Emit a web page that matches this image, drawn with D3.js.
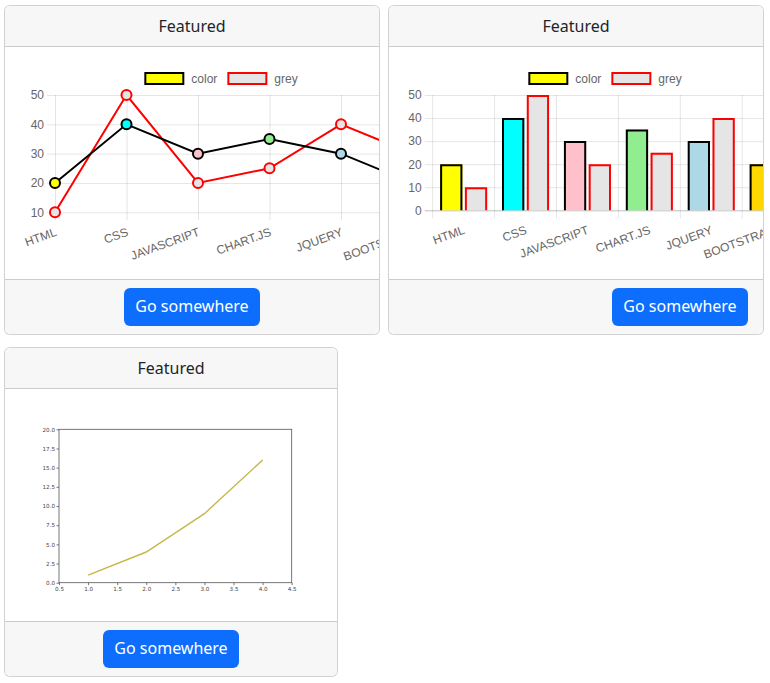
<!DOCTYPE html>
<html>
<head>
<meta charset="utf-8">
<script src="https://cdn.jsdelivr.net/npm/d3@7"></script>
<style>
body { margin: 0; background: #fff; font-family: "Noto Sans", "Open Sans", sans-serif; color: #212529; }
.card { position: absolute; box-sizing: border-box; border: 1px solid rgba(0,0,0,.175); border-radius: 6px; overflow: hidden; background: #fff; }
.card-header { height: 41px; box-sizing: border-box; border-bottom: 1px solid rgba(0,0,0,.175); background: #f7f7f7; text-align: center; font-size: 16px; line-height: 40px; }
.card-body { position: relative; height: 232px; overflow: hidden; }
.card-footer { box-sizing: border-box; height: 55px; border-top: 1px solid rgba(0,0,0,.175); background: #f7f7f7; padding: 8px 15px; }
.btn { display: inline-block; width: 136px; height: 38px; box-sizing: border-box; background: #0d6efd; color: #fff; border-radius: 6px; font-size: 16px; line-height: 37px; text-align: center; }
svg { position: absolute; left: 0; top: 0; }
</style>
</head>
<body>
<div class="card" style="left:4px;top:5px;width:376px;height:330px">
  <div class="card-header">Featured</div>
  <div class="card-body" id="body1"></div>
  <div class="card-footer" style="text-align:center"><span class="btn">Go somewhere</span></div>
</div>
<div class="card" style="left:388px;top:5px;width:376px;height:330px">
  <div class="card-header">Featured</div>
  <div class="card-body" id="body2"></div>
  <div class="card-footer" style="text-align:right"><span class="btn">Go somewhere</span></div>
</div>
<div class="card" style="left:4px;top:347px;width:334px;height:330px">
  <div class="card-header">Featured</div>
  <div class="card-body" id="body3"></div>
  <div class="card-footer" style="text-align:center"><span class="btn">Go somewhere</span></div>
</div>

<script>
const categories = ['HTML', 'CSS', 'JAVASCRIPT', 'CHART.JS', 'JQUERY', 'BOOTSTRAP'];
const colorValues = [20, 40, 30, 35, 30, 20];
const greyValues = [10, 50, 20, 25, 40, 30];
const pointColors = ['yellow', 'cyan', 'pink', 'lightgreen', 'lightblue', 'gold'];
const seriesNames = ['color', 'grey'];
const lineYTicks = [10, 20, 30, 40, 50];
const barYTicks = [0, 10, 20, 30, 40, 50];

const mplX = [1, 2, 3, 4];
const mplY = [1, 4, 9, 16];
const mplXTicks = [0.5, 1.0, 1.5, 2.0, 2.5, 3.0, 3.5, 4.0, 4.5];
const mplYTicks = [0, 2.5, 5, 7.5, 10, 12.5, 15, 17.5, 20];

const chartFont = '"Liberation Sans", Arial, sans-serif';
const grid = 'rgba(0,0,0,0.1)';
const greyFill = '#e5e5e5';

// legend like chart.js: boxes 40x12, centred over a 400px canvas
function drawLegend(svg) {
    const g = svg.append('g');
    const items = [
        { label: seriesNames[0], fill: pointColors[0], stroke: '#000' },
        { label: seriesNames[1], fill: greyFill, stroke: 'red' }
    ];
    let x = 0;
    items.forEach(it => {
        const item = g.append('g').attr('transform', `translate(${x},0)`);
        item.append('rect').attr('x', 1).attr('y', 26).attr('width', 38).attr('height', 11)
            .attr('fill', it.fill).attr('stroke', it.stroke).attr('stroke-width', 2);
        const t = item.append('text').attr('x', 47).attr('y', 31.5).attr('dy', '0.35em')
            .attr('font-family', chartFont).attr('font-size', 12).attr('fill', '#666').text(it.label);
        x += 47 + t.node().getComputedTextLength() + 10;
    });
    const total = x - 10;
    g.attr('transform', `translate(${216 - total / 2},0)`);
}

function styleAxis(g) {
    g.select('.domain').remove();
    g.selectAll('line').attr('stroke', grid);
    g.selectAll('text').attr('font-family', chartFont).attr('font-size', 12).attr('fill', '#666');
}

function rotateLabels(g) {
    g.selectAll('text')
        .attr('x', 0).attr('y', 0).attr('dy', '0.71em')
        .attr('text-anchor', 'end')
        .attr('transform', 'translate(-1,7) rotate(-20)');
}

// ---- line chart ----
const svg1 = d3.select('#body1').append('svg').attr('width', 420).attr('height', 232);
const lx = d3.scalePoint().domain(categories).range([50, 407.5]);
const ly = d3.scaleLinear().domain([10, 50]).range([165.3, 48]);

svg1.append('g').attr('transform', 'translate(42,0)')
    .call(d3.axisLeft(ly).tickValues(lineYTicks).tickSize(-(420 - 42)).tickPadding(3))
    .call(styleAxis);

svg1.append('g').attr('transform', `translate(0,${165.3 + 8})`)
    .call(d3.axisBottom(lx).tickSize(-(165.3 - 48 + 8)).tickPadding(0))
    .call(styleAxis)
    .call(rotateLabels);

const line1 = d3.line().x((d, i) => lx(categories[i])).y(d => ly(d));

svg1.append('path').datum(greyValues).attr('d', line1)
    .attr('fill', 'none').attr('stroke', 'red').attr('stroke-width', 2);
svg1.append('g').selectAll('circle').data(greyValues).join('circle')
    .attr('cx', (d, i) => lx(categories[i])).attr('cy', d => ly(d)).attr('r', 5)
    .attr('fill', greyFill).attr('stroke', 'red').attr('stroke-width', 2);

svg1.append('path').datum(colorValues).attr('d', line1)
    .attr('fill', 'none').attr('stroke', '#000').attr('stroke-width', 2);
svg1.append('g').selectAll('circle').data(colorValues).join('circle')
    .attr('cx', (d, i) => lx(categories[i])).attr('cy', d => ly(d)).attr('r', 5)
    .attr('fill', (d, i) => pointColors[i]).attr('stroke', '#000').attr('stroke-width', 2);

drawLegend(svg1);

// ---- bar chart ----
const svg2 = d3.select('#body2').append('svg').attr('width', 420).attr('height', 232);
const bx0 = d3.scaleBand().domain(categories).range([43.7, 43.7 + 6 * 61.9]);
const bx1 = d3.scaleBand().domain(seriesNames)
    .range([bx0.bandwidth() * 0.1, bx0.bandwidth() * 0.9])
    .paddingInner(0.1).paddingOuter(0.05);
const by = d3.scaleLinear().domain([0, 50]).range([210.3 - 47, 48]);

const yg2 = svg2.append('g').attr('transform', `translate(${43.7 - 8},0)`)
    .call(d3.axisLeft(by).tickValues(barYTicks).tickSize(-(bx0.range()[1] - 43.7 + 8)).tickPadding(3))
    .call(styleAxis);
yg2.selectAll('.tick').filter(d => d === 0).select('line').attr('stroke', 'rgba(0,0,0,0.25)');

const bounds = categories.map(c => bx0(c)).concat([bx0.range()[1]]);
svg2.append('g').selectAll('line').data(bounds).join('line')
    .attr('x1', d => d).attr('x2', d => d)
    .attr('y1', by(50)).attr('y2', by(0) + 8)
    .attr('stroke', grid);

svg2.append('g').attr('transform', `translate(0,${by(0) + 8})`)
    .call(d3.axisBottom(bx0).tickSize(0).tickPadding(0))
    .call(styleAxis)
    .call(rotateLabels);

const barRows = categories.map((c, i) => ({ cat: c, i: i, color: colorValues[i], grey: greyValues[i] }));
const groups = svg2.append('g').selectAll('g').data(barRows).join('g')
    .attr('transform', d => `translate(${bx0(d.cat)},0)`);

seriesNames.forEach(s => {
    const w = bx1.bandwidth();
    const fill = d => s === 'color' ? pointColors[d.i] : greyFill;
    const stroke = s === 'color' ? '#000' : 'red';
    groups.append('rect')
        .attr('x', bx1(s)).attr('y', d => by(d[s]))
        .attr('width', w).attr('height', d => by(0) - by(d[s]))
        .attr('fill', fill);
    // border on three sides, bottom skipped
    groups.append('path')
        .attr('d', d => {
            const x0 = bx1(s) + 1, x1 = bx1(s) + w - 1, y0 = by(0), y1 = by(d[s]) + 1;
            return `M${x0},${y0}V${y1}H${x1}V${y0}`;
        })
        .attr('fill', 'none').attr('stroke', stroke).attr('stroke-width', 2);
});

drawLegend(svg2);

// ---- matplotlib style chart ----
const svg3 = d3.select('#body3').append('svg').attr('width', 332).attr('height', 232);
const mx = d3.scaleLinear().domain([0.5, 4.5]).range([54, 286.7]);
const my = d3.scaleLinear().domain([0, 20]).range([193.7, 40.3]);

function mplAxis(g) {
    g.select('.domain').remove();
    g.selectAll('line').attr('stroke', '#555').attr('stroke-width', 0.8);
    g.selectAll('text').attr('font-family', '"DejaVu Sans", sans-serif').attr('font-size', 5.6).attr('fill', '#444');
}

svg3.append('g').attr('transform', `translate(0,${my(0)})`)
    .call(d3.axisBottom(mx).tickValues(mplXTicks).tickFormat(d3.format('.1f')).tickSize(2.5).tickPadding(1.5))
    .call(mplAxis);
svg3.append('g').attr('transform', `translate(${mx(0.5)},0)`)
    .call(d3.axisLeft(my).tickValues(mplYTicks).tickFormat(d3.format('.1f')).tickSize(2.5).tickPadding(1.5))
    .call(mplAxis);

svg3.append('rect')
    .attr('x', mx(0.5)).attr('y', my(20))
    .attr('width', mx(4.5) - mx(0.5)).attr('height', my(0) - my(20))
    .attr('fill', 'none').attr('stroke', '#555').attr('stroke-width', 0.8);

svg3.append('path').datum(mplY)
    .attr('d', d3.line().x((d, i) => mx(mplX[i])).y(d => my(d)))
    .attr('fill', 'none').attr('stroke', '#c4b848').attr('stroke-width', 1.4);
</script>
</body>
</html>
